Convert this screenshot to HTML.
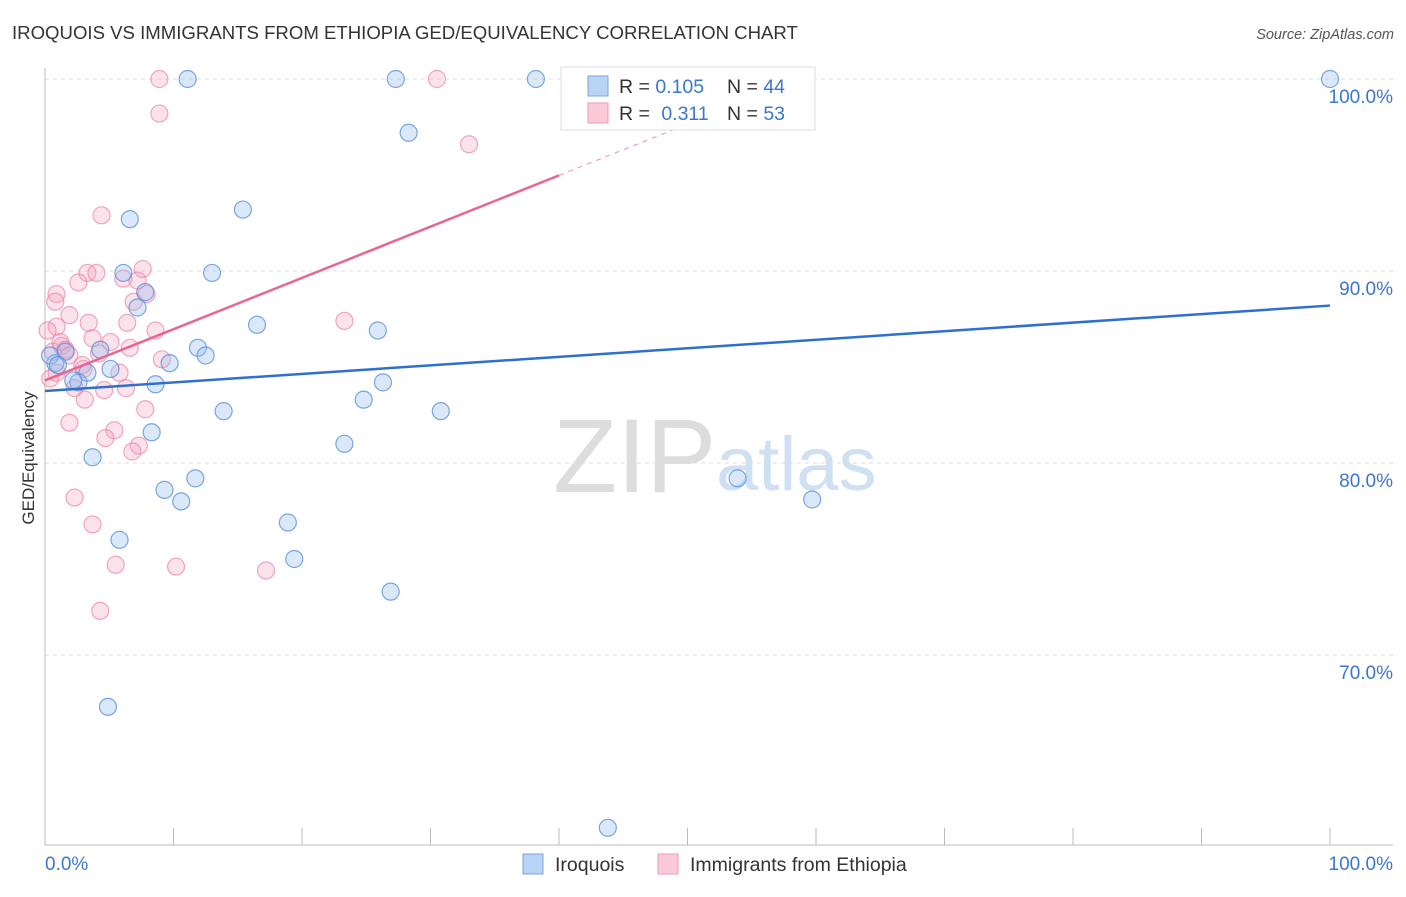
<!DOCTYPE html>
<html><head><meta charset="utf-8"><style>
body{margin:0;background:#fff;font-family:"Liberation Sans",sans-serif;}
svg text{font-family:"Liberation Sans",sans-serif;}
</style></head><body>
<svg width="1406" height="892">
<text x="12" y="39" font-size="18.6" fill="#333">IROQUOIS VS IMMIGRANTS FROM ETHIOPIA GED/EQUIVALENCY CORRELATION CHART</text>
<text x="1394" y="39" font-size="14.5" fill="#555" font-style="italic" text-anchor="end">Source: ZipAtlas.com</text>
<g>
<text x="553" y="492" font-size="105" fill="#ddd" font-family="Liberation Serif,serif">ZIP</text>
<text x="716" y="490" font-size="76" fill="#cfe0f3">atlas</text>
</g>
<g id="grid"></g>
<g id="axes"></g>
<text transform="translate(34,458) rotate(-90)" font-size="17" fill="#333" text-anchor="middle">GED/Equivalency</text>
<g id="pts"></g>
<g id="trend"></g>
<g>
<rect x="561" y="67" width="254" height="63" fill="#fff" stroke="#ddd"/>
<rect x="588" y="76" width="20" height="20" fill="#b9d3f5" stroke="#7aa6e0"/>
<rect x="588" y="103" width="20" height="20" fill="#fbc9d8" stroke="#ee9ab5"/>
<text x="619" y="93" font-size="19.5" fill="#333">R = <tspan fill="#3a78d0">0.105</tspan></text>
<text x="727" y="93" font-size="19.5" fill="#333">N = <tspan fill="#3a78d0">44</tspan></text>
<text x="619" y="120" font-size="19.5" fill="#333">R = <tspan fill="#3a78d0" dx="6">0.311</tspan></text>
<text x="727" y="120" font-size="19.5" fill="#333">N = <tspan fill="#3a78d0">53</tspan></text>
</g>
<g>
<rect x="523" y="854" width="20" height="20" fill="#b9d3f5" stroke="#7aa6e0"/>
<text x="555" y="871" font-size="19.5" fill="#333">Iroquois</text>
<rect x="658" y="854" width="20" height="20" fill="#fbc9d8" stroke="#ee9ab5"/>
<text x="690" y="871" font-size="19.5" fill="#333">Immigrants from Ethiopia</text>
</g>
</svg>
<script>
const yTicks=[100,90,80,70];
const yTickLabels=["100.0%","90.0%","80.0%","70.0%"];
const blueX=[11.1,27.3,38.2,100,28.3,6.6,15.4,6.1,13.0,7.8,7.2,16.5,25.9,11.9,12.5,4.3,9.7,0.8,5.1,3.3,2.6,8.6,26.3,24.8,13.9,30.8,8.3,23.3,3.7,9.3,10.6,11.7,53.9,59.7,18.9,5.8,19.4,26.9,4.9,43.8,0.4,1.6,1.0,2.2];
const blueY=[100,100,100,100,97.2,92.7,93.2,89.9,89.9,88.9,88.1,87.2,86.9,86.0,85.6,85.9,85.2,85.2,84.9,84.7,84.2,84.1,84.2,83.3,82.7,82.7,81.6,81.0,80.3,78.6,78.0,79.2,79.2,78.1,76.9,76.0,75.0,73.3,67.3,61.0,85.6,85.8,85.1,84.3];
const pinkX=[8.9,30.5,8.9,33.0,4.4,7.6,3.3,4.0,2.6,6.1,0.9,0.8,7.9,6.9,7.2,1.9,3.4,6.4,23.3,0.9,3.7,5.1,8.6,1.3,6.6,4.2,1.9,9.1,3.0,5.8,2.3,4.6,6.3,3.1,7.8,1.9,5.4,4.7,7.3,6.8,2.3,3.7,5.5,10.2,17.2,4.3,0.6,0.4,1.2,1.6,2.9,0.2,0.9];
const pinkY=[100,100,98.2,96.6,92.9,90.1,89.9,89.9,89.4,89.6,88.8,88.4,88.8,88.4,89.5,87.7,87.3,87.3,87.4,87.1,86.5,86.3,86.9,86.1,86.0,85.7,85.6,85.4,84.9,84.7,83.9,83.8,83.9,83.3,82.8,82.1,81.7,81.3,80.9,80.6,78.2,76.8,74.7,74.6,74.4,72.3,85.8,84.4,86.3,85.9,85.1,86.9,84.7];
const blueTrend=[83.75,88.2];
const pinkTrend=[84.3,0.267];
const NS="http://www.w3.org/2000/svg";
const X=v=>45+v*12.85, Y=v=>79+(100-v)*19.2;
function mk(t,a,p){const e=document.createElementNS(NS,t);for(const k in a)e.setAttribute(k,a[k]);p.appendChild(e);return e;}
const grid=document.getElementById('grid'),axes=document.getElementById('axes');
yTicks.forEach((t,i)=>{
 const l=mk('line',{x1:45,x2:1393,y1:Y(t),y2:Y(t),stroke:'#ddd','stroke-dasharray':'4,4'},grid);
 
 
 const tx=mk('text',{x:1393,y:Y(t)+24,'font-size':19,fill:'#3a78d0','text-anchor':'end'},grid);
 tx.textContent=yTickLabels[i];
 
 
});
mk('line',{x1:45,x2:45,y1:68,y2:845,stroke:'#bbb'},axes);
mk('line',{x1:45,x2:1393,y1:845,y2:845,stroke:'#bbb'},axes);
for(let i=0;i<=10;i++){const t=mk('line',{x1:X(i*10),x2:X(i*10),y1:828,y2:845,stroke:'#bbb'},axes);
 
 }
[[0,"0.0%",'start',45],[100,"100.0%",'end',1393]].forEach(d=>{const t=mk('text',{x:d[3],y:870,'font-size':19,fill:'#3a78d0','text-anchor':d[2]},axes);t.textContent=d[1];
 
 });
const pts=document.getElementById('pts');
pinkX.forEach((x,i)=>{const c=mk('circle',{cx:X(x),cy:Y(pinkY[i]),r:8.5,fill:'rgba(246,160,188,0.3)',stroke:'rgba(236,130,165,0.7)','stroke-width':1.2},pts);
 
 });
blueX.forEach((x,i)=>{const c=mk('circle',{cx:X(x),cy:Y(blueY[i]),r:8.5,fill:'rgba(150,190,240,0.35)',stroke:'rgba(90,145,220,0.8)','stroke-width':1.2},pts);
 
 });
const tr=document.getElementById('trend');
const b=mk('line',{x1:X(0),y1:Y(blueTrend[0]),x2:X(100),y2:Y(blueTrend[1]),stroke:'#2f6fd0','stroke-width':2.5},tr);


const p=mk('line',{x1:X(0),y1:Y(pinkTrend[0]),x2:X(40),y2:Y(pinkTrend[0]+40*pinkTrend[1]),stroke:'#e8668f','stroke-width':2.5},tr);


const pd=mk('line',{x1:X(40),y1:Y(pinkTrend[0]+40*pinkTrend[1]),x2:X(55),y2:Y(pinkTrend[0]+55*pinkTrend[1]),stroke:'#f0a0b8','stroke-width':1.2,'stroke-dasharray':'5,5'},tr);


</script>
</body></html>
